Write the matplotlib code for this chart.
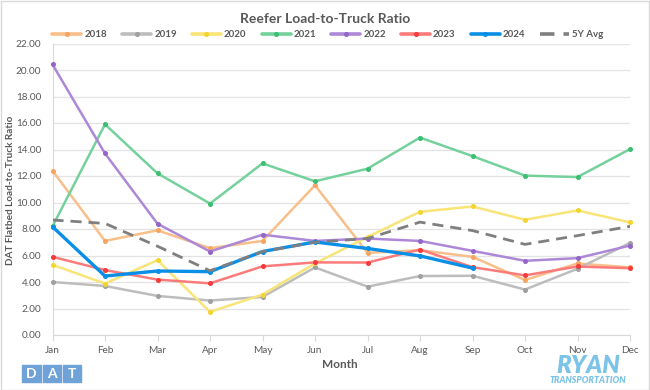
import matplotlib
matplotlib.use("Agg")
import matplotlib.pyplot as plt
from matplotlib.patches import Rectangle

months = ["Jan", "Feb", "Mar", "Apr", "May", "Jun", "Jul", "Aug", "Sep", "Oct", "Nov", "Dec"]
y2018 = [12.4, 7.1, 7.9, 6.55, 7.1, 11.3, 6.2, 6.4, 5.9, 4.15, 5.4, 5.1]
y2019 = [4.0, 3.7, 2.95, 2.6, 2.87, 5.1, 3.65, 4.45, 4.47, 3.43, 5.0, 6.95]
y2020 = [5.3, 3.88, 5.65, 1.74, 3.05, 5.4, 7.4, 9.3, 9.7, 8.7, 9.4, 8.5]
y2021 = [8.2, 15.9, 12.2, 9.92, 12.95, 11.6, 12.55, 14.9, 13.5, 12.03, 11.92, 14.03]
y2022 = [20.42, 13.7, 8.4, 6.3, 7.57, 7.1, 7.28, 7.1, 6.35, 5.6, 5.8, 6.75]
y2023 = [5.9, 4.9, 4.18, 3.9, 5.18, 5.48, 5.47, 6.45, 5.12, 4.5, 5.17, 5.04]
y2024 = [8.17, 4.45, 4.83, 4.78, 6.3, 7.02, 6.53, 5.97, 5.05]
y5avg = [8.68, 8.42, 6.7, 4.85, 6.3, 7.0, 7.28, 8.52, 7.88, 6.84, 7.5, 8.2]
yticks = [0, 2, 4, 6, 8, 10, 12, 14, 16, 18, 20, 22]

W, H = 650, 390
plt.rcParams["font.family"] = ["Lato", "DejaVu Sans"]
fig = plt.figure(figsize=(6.5, 3.9), dpi=100)

def fx(px):
    return px / W

def fy(py):
    return 1 - py / H

ax = fig.add_axes([fx(52.5), fy(335), fx(630) - fx(52.5), fy(43.5) - fy(335)])

series = [
    ("2018", y2018, "#f9bf8a", "#f5a55f", 1.8),
    ("2019", y2019, "#bdbdbd", "#a0a0a0", 1.8),
    ("2020", y2020, "#f8e477", "#f2d52e", 1.8),
    ("2021", y2021, "#74d19c", "#3cbf72", 1.8),
    ("2022", y2022, "#ad88d6", "#9466c8", 1.8),
    ("2023", y2023, "#fb7b7b", "#f53b3b", 1.8),
    ("2024", y2024, "#0a8fe6", "#0a8fe6", 2.4),
]
x_all = list(range(len(months)))
for name, vals, col, mcol, lw in series:
    ax.plot(range(len(vals)), vals, color=col, lw=lw, marker="o",
            markersize=2.6, markerfacecolor=mcol, markeredgecolor=mcol,
            label=name, solid_capstyle="round", zorder=3, clip_on=False)
ax.plot(x_all, y5avg, color="#7f7f7f", lw=2.0, ls=(0, (4, 2.5)), label="5Y Avg", zorder=3)

ax.set_xlim(0, 11)
ax.set_ylim(0, 22)
ax.set_yticks(yticks)
ax.set_yticklabels([f"{v:.2f}" for v in yticks])
ax.set_xticks(x_all)
ax.set_xticklabels(months)
ax.tick_params(axis="y", length=0, labelsize=7.2, labelcolor="#595959", pad=8)
ax.tick_params(axis="x", length=4, color="#d9d9d9", labelsize=7.2, labelcolor="#595959", pad=4)
ax.grid(axis="y", color="#e3e3e3", lw=0.9)
ax.set_axisbelow(True)
for s in ["top", "right"]:
    ax.spines[s].set_visible(False)
ax.spines["left"].set_color("#d9d9d9")
ax.spines["bottom"].set_color("#d9d9d9")

fig.text(fx(325), fy(19), "Reefer Load-to-Truck Ratio", ha="center", va="center",
         fontsize=10, fontweight="bold", color="#595959")
fig.text(fx(11), fy(190), "DAT Flatbed Load-to-Truck Ratio", ha="center", va="center",
         rotation=90, fontsize=7.2, fontweight="bold", color="#595959")
fig.text(fx(340), fy(365), "Month", ha="center", va="center",
         fontsize=8.5, fontweight="bold", color="#595959")

leg = fig.legend(loc="center", bbox_to_anchor=(fx(328), fy(34.5)), ncol=8, frameon=False,
                 fontsize=7, handlelength=3.0, columnspacing=1.55, handletextpad=0.3,
                 labelcolor="#595959")
for t in leg.get_texts():
    t.set_fontweight("bold")
for h in leg.get_lines():
    h.set_linewidth(2.6)

# DAT logo
for i, letter in enumerate(["D", "A", "T"]):
    x0 = 22 + i * 20.5
    fig.patches.append(Rectangle((fx(x0), fy(382)), fx(18.5), fy(365) - fy(382),
                                 transform=fig.transFigure, color="#6fa3d8", zorder=1))
    fig.text(fx(x0 + 9.25), fy(373.5), letter, ha="center", va="center",
             fontsize=10, fontweight="bold", color="white")

# RYAN logo
fig.text(fx(588), fy(373), "RYAN", ha="center", va="baseline", fontsize=17.5,
         fontweight="heavy", style="italic", color="#7cc3e8")
fig.text(fx(588), fy(383), "TRANSPORTATION", ha="center", va="baseline", fontsize=6.4,
         fontweight="heavy", style="italic", color="#7cc3e8")

fig.patches.append(Rectangle((0.5 / W, 0.5 / H), 1 - 1.5 / W, 1 - 1.5 / H, transform=fig.transFigure,
                             fill=False, edgecolor="#d9d9d9", lw=1))

fig.savefig("out.png", dpi=100, facecolor="white")
